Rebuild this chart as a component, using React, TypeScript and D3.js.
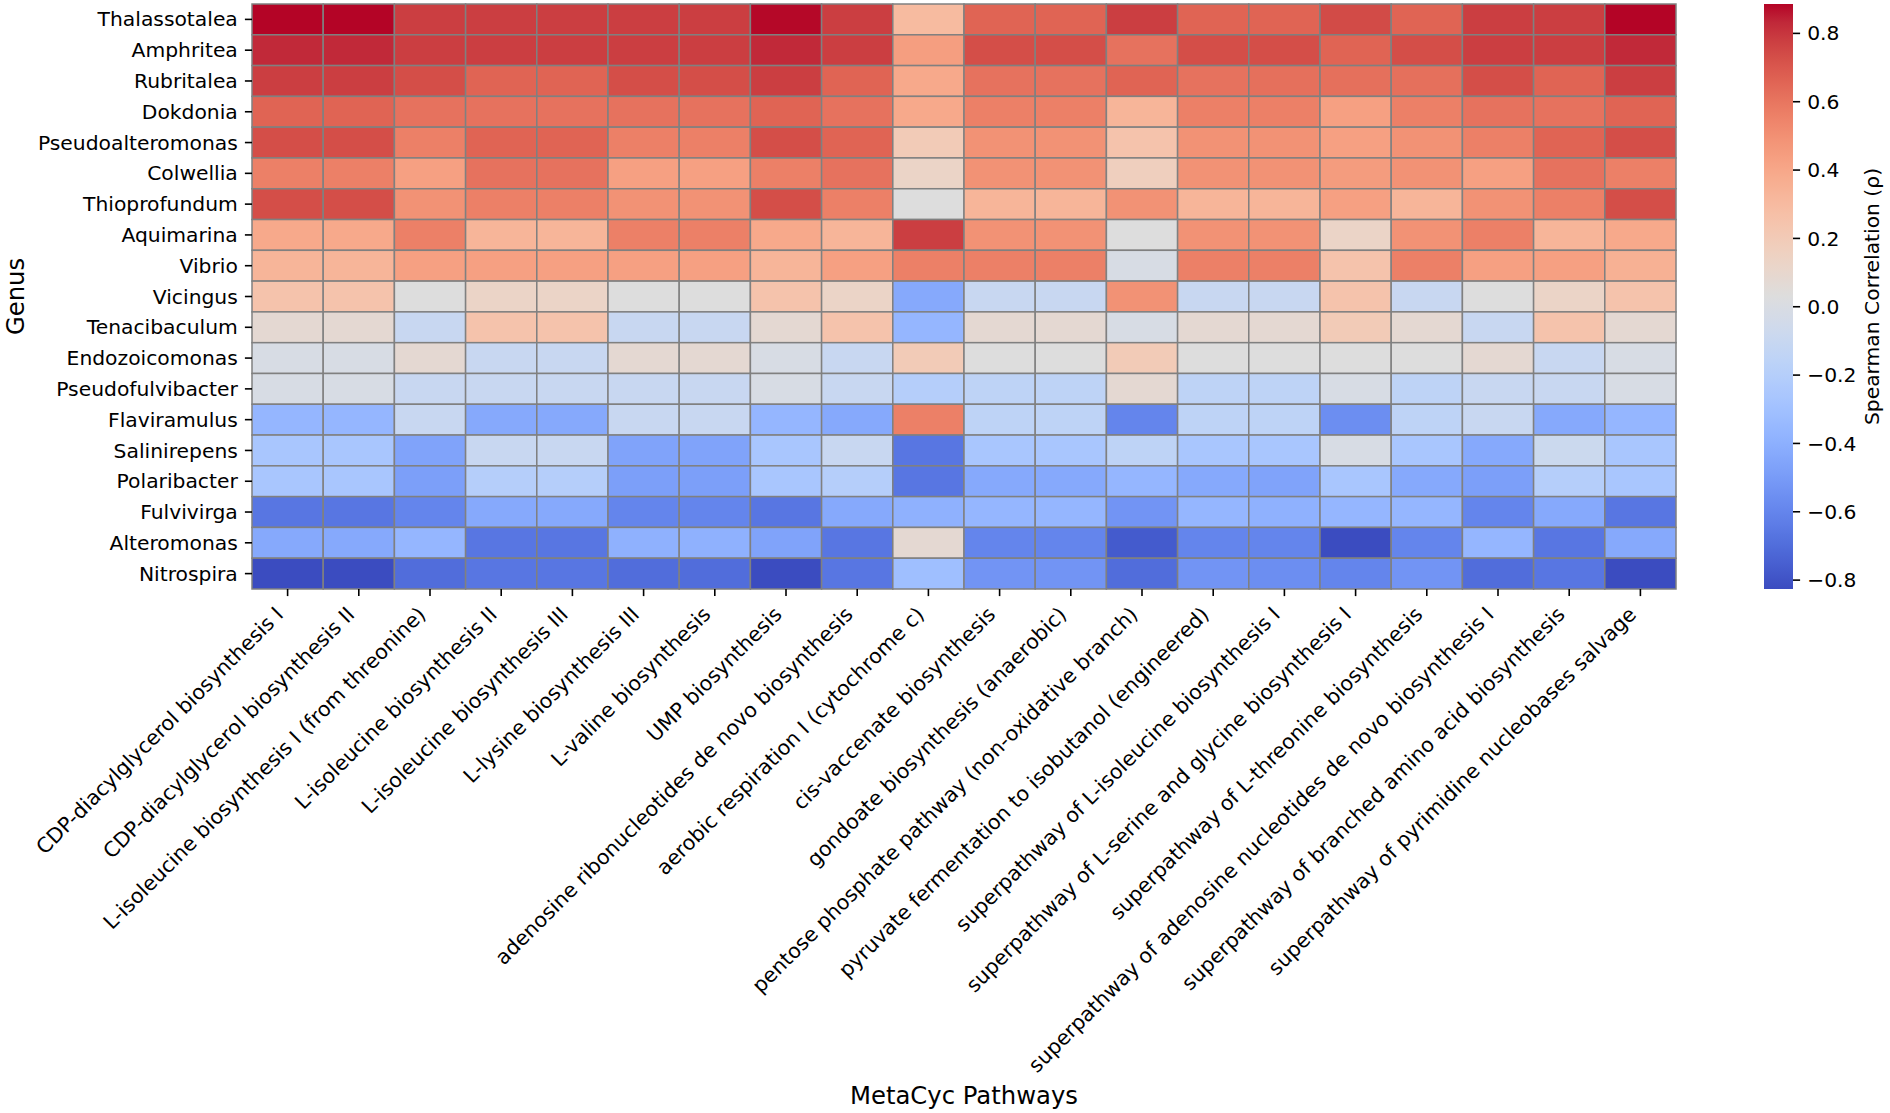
import * as d3 from "d3"

const genera = [
  "Thalassotalea", "Amphritea", "Rubritalea", "Dokdonia", "Pseudoalteromonas",
  "Colwellia", "Thioprofundum", "Aquimarina", "Vibrio", "Vicingus",
  "Tenacibaculum", "Endozoicomonas", "Pseudofulvibacter", "Flaviramulus",
  "Salinirepens", "Polaribacter", "Fulvivirga", "Alteromonas", "Nitrospira",
]

const pathways = [
  "CDP-diacylglycerol biosynthesis I",
  "CDP-diacylglycerol biosynthesis II",
  "L-isoleucine biosynthesis I (from threonine)",
  "L-isoleucine biosynthesis II",
  "L-isoleucine biosynthesis III",
  "L-lysine biosynthesis III",
  "L-valine biosynthesis",
  "UMP biosynthesis",
  "adenosine ribonucleotides de novo biosynthesis",
  "aerobic respiration I (cytochrome c)",
  "cis-vaccenate biosynthesis",
  "gondoate biosynthesis (anaerobic)",
  "pentose phosphate pathway (non-oxidative branch)",
  "pyruvate fermentation to isobutanol (engineered)",
  "superpathway of L-isoleucine biosynthesis I",
  "superpathway of L-serine and glycine biosynthesis I",
  "superpathway of L-threonine biosynthesis",
  "superpathway of adenosine nucleotides de novo biosynthesis I",
  "superpathway of branched amino acid biosynthesis",
  "superpathway of pyrimidine nucleobases salvage",
]

// spearman rho per genus, one value per pathway (same order as above)
const thalassotalea = [0.886, 0.886, 0.78, 0.78, 0.78, 0.78, 0.78, 0.88, 0.78, 0.30, 0.66, 0.66, 0.78, 0.66, 0.66, 0.74, 0.66, 0.78, 0.78, 0.886]
const amphritea = [0.83, 0.83, 0.78, 0.78, 0.78, 0.78, 0.78, 0.83, 0.78, 0.44, 0.73, 0.73, 0.61, 0.73, 0.73, 0.66, 0.73, 0.78, 0.78, 0.83]
const rubritalea = [0.78, 0.78, 0.73, 0.66, 0.66, 0.73, 0.73, 0.78, 0.66, 0.39, 0.61, 0.61, 0.66, 0.61, 0.62, 0.62, 0.62, 0.73, 0.66, 0.78]
const dokdonia = [0.66, 0.66, 0.61, 0.61, 0.61, 0.61, 0.61, 0.66, 0.61, 0.39, 0.56, 0.56, 0.33, 0.56, 0.56, 0.43, 0.56, 0.61, 0.61, 0.66]
const pseudoalteromonas = [0.73, 0.73, 0.56, 0.66, 0.66, 0.56, 0.56, 0.73, 0.66, 0.20, 0.49, 0.49, 0.25, 0.49, 0.49, 0.43, 0.49, 0.56, 0.66, 0.73]
const colwellia = [0.56, 0.56, 0.43, 0.61, 0.61, 0.43, 0.43, 0.56, 0.61, 0.13, 0.49, 0.49, 0.17, 0.49, 0.49, 0.45, 0.49, 0.43, 0.61, 0.56]
const thioprofundum = [0.73, 0.73, 0.49, 0.56, 0.56, 0.49, 0.49, 0.73, 0.56, 0.03, 0.33, 0.33, 0.49, 0.33, 0.33, 0.43, 0.33, 0.49, 0.56, 0.73]
const aquimarina = [0.39, 0.39, 0.56, 0.33, 0.33, 0.56, 0.56, 0.39, 0.33, 0.78, 0.49, 0.49, 0.03, 0.49, 0.49, 0.13, 0.49, 0.56, 0.33, 0.39]
const vibrio = [0.33, 0.33, 0.43, 0.43, 0.43, 0.43, 0.43, 0.33, 0.43, 0.56, 0.56, 0.56, -0.01, 0.56, 0.56, 0.25, 0.56, 0.43, 0.43, 0.35]
const vicingus = [0.25, 0.25, 0.03, 0.13, 0.13, 0.03, 0.03, 0.25, 0.13, -0.43, -0.10, -0.10, 0.49, -0.10, -0.10, 0.25, -0.10, 0.03, 0.13, 0.25]
const tenacibaculum = [0.08, 0.08, -0.10, 0.25, 0.25, -0.10, -0.10, 0.08, 0.25, -0.36, 0.08, 0.08, -0.01, 0.08, 0.08, 0.20, 0.08, -0.10, 0.25, 0.08]
const endozoicomonas = [-0.01, -0.01, 0.08, -0.10, -0.10, 0.08, 0.08, -0.01, -0.10, 0.20, 0.03, 0.03, 0.20, 0.03, 0.03, 0.03, 0.03, 0.08, -0.10, -0.01]
const pseudofulvibacter = [-0.01, -0.01, -0.10, -0.10, -0.10, -0.10, -0.10, -0.01, -0.10, -0.20, -0.15, -0.15, 0.08, -0.15, -0.15, -0.01, -0.15, -0.10, -0.10, -0.01]
const flaviramulus = [-0.36, -0.36, -0.10, -0.43, -0.43, -0.10, -0.10, -0.36, -0.43, 0.56, -0.15, -0.15, -0.60, -0.15, -0.15, -0.56, -0.15, -0.10, -0.43, -0.36]
const salinirepens = [-0.26, -0.26, -0.46, -0.10, -0.10, -0.46, -0.46, -0.26, -0.10, -0.66, -0.26, -0.26, -0.15, -0.26, -0.26, -0.01, -0.26, -0.43, -0.08, -0.26]
const polaribacter = [-0.26, -0.26, -0.48, -0.20, -0.20, -0.48, -0.48, -0.26, -0.20, -0.66, -0.43, -0.43, -0.36, -0.43, -0.46, -0.26, -0.43, -0.48, -0.20, -0.26]
const fulvivirga = [-0.66, -0.66, -0.60, -0.43, -0.43, -0.60, -0.60, -0.66, -0.43, -0.39, -0.36, -0.36, -0.53, -0.36, -0.39, -0.36, -0.36, -0.60, -0.43, -0.66]
const alteromonas = [-0.43, -0.43, -0.36, -0.66, -0.66, -0.39, -0.39, -0.46, -0.66, 0.08, -0.60, -0.60, -0.77, -0.60, -0.60, -0.826, -0.60, -0.36, -0.66, -0.43]
const nitrospira = [-0.826, -0.826, -0.70, -0.66, -0.66, -0.70, -0.70, -0.826, -0.66, -0.31, -0.53, -0.53, -0.70, -0.53, -0.56, -0.60, -0.53, -0.70, -0.66, -0.826]

const rhoRows = [
  thalassotalea, amphritea, rubritalea, dokdonia, pseudoalteromonas, colwellia,
  thioprofundum, aquimarina, vibrio, vicingus, tenacibaculum, endozoicomonas,
  pseudofulvibacter, flaviramulus, salinirepens, polaribacter, fulvivirga,
  alteromonas, nitrospira,
]

const cbTicks = [-0.8, -0.6, -0.4, -0.2, 0, 0.2, 0.4, 0.6, 0.8]

// matplotlib "coolwarm"
const coolwarm = [
  "#3b4cc0", "#445acc", "#4d68d7", "#5775e1", "#6282ea", "#6c8ef1", "#779af7", "#82a5fb",
  "#8db0fe", "#98b9ff", "#a3c2ff", "#aec9fd", "#b8d0f9", "#c2d5f4", "#ccd9ee", "#d5dbe6",
  "#dddddd", "#e5d8d1", "#ecd3c5", "#f1ccb9", "#f5c4ad", "#f7bba1", "#f7b194", "#f7a688",
  "#f49a7c", "#f18d71", "#ec7f66", "#e5705c", "#de6052", "#d55049", "#cb3e41", "#c02839",
  "#b40426",
]

const W = 1890
const H = 1113
const FONT = "DejaVu Sans, sans-serif"

export default function App() {
  const left = 252, right = 1676, top = 4, bottom = 589
  const tickLen = 7.1, pad = 7.1

  const cells = rhoRows.flatMap((row, r) =>
    row.map((v, c) => ({ genus: genera[r], pathway: pathways[c], v }))
  )
  const [vmin, vmax] = d3.extent(cells, d => d.v) as [number, number]

  const x = d3.scaleBand<string>().domain(pathways).range([left, right])
  const y = d3.scaleBand<string>().domain(genera).range([top, bottom])

  const tNorm = d3.scaleLinear().domain([vmin, vmax]).range([0, 1]).clamp(true)
  const cmap = d3.scaleLinear<string>()
    .domain(coolwarm.map((_, i) => i / (coolwarm.length - 1)))
    .range(coolwarm)
    .interpolate(d3.interpolateRgb)
  const color = (v: number) => cmap(tNorm(v))

  // colorbar
  const cbX = 1764, cbW = 29
  const cbY = d3.scaleLinear().domain([vmin, vmax]).range([bottom, top])
  const fmt = d3.format(".1f")
  const gradStops = d3.range(0, 1.0001, 1 / 64)

  return (
    <svg width={W} height={H} viewBox={`0 0 ${W} ${H}`}
      style={{ position: "absolute", left: 0, top: 0, background: "#fff" }}
      fontFamily={FONT}>
      <defs>
        <linearGradient id="cb" x1="0" y1="1" x2="0" y2="0">
          {gradStops.map(t => (
            <stop key={t} offset={t} stopColor={cmap(t)} />
          ))}
        </linearGradient>
      </defs>

      <g>
        {cells.map(d => (
          <rect key={d.genus + d.pathway}
            x={x(d.pathway)} y={y(d.genus)}
            width={x.bandwidth()} height={y.bandwidth()}
            fill={color(d.v)} stroke="#808080" strokeWidth={1.5} />
        ))}
      </g>

      {/* y axis */}
      <g>
        {genera.map(g => {
          const cy = (y(g) ?? 0) + y.bandwidth() / 2
          return (
            <g key={g}>
              <line x1={left - tickLen} x2={left} y1={cy} y2={cy} stroke="#000" strokeWidth={1.6} />
              <text x={left - tickLen - pad} y={cy} dy="0.35em" textAnchor="end" fontSize={20.3}>{g}</text>
            </g>
          )
        })}
      </g>

      {/* x axis */}
      <g>
        {pathways.map(p => {
          const cx = (x(p) ?? 0) + x.bandwidth() / 2
          return (
            <g key={p}>
              <line x1={cx} x2={cx} y1={bottom} y2={bottom + tickLen} stroke="#000" strokeWidth={1.6} />
              <text transform={`translate(${cx - 3},${bottom + tickLen + pad + 12.5}) rotate(-45)`}
                textAnchor="end" fontSize={20.6}>{p}</text>
            </g>
          )
        })}
      </g>

      <text x={(left + right) / 2} y={1104} textAnchor="middle" fontSize={24.3}>MetaCyc Pathways</text>
      <text transform={`translate(23.5,${(top + bottom) / 2}) rotate(-90)`} textAnchor="middle" fontSize={24.3}>Genus</text>

      {/* colorbar */}
      <rect x={cbX} y={top} width={cbW} height={bottom - top} fill="url(#cb)" />
      {cbTicks.map(t => (
        <g key={t}>
          <line x1={cbX + cbW} x2={cbX + cbW + tickLen} y1={cbY(t)} y2={cbY(t)} stroke="#000" strokeWidth={1.6} />
          <text x={cbX + cbW + tickLen + pad} y={cbY(t)} dy="0.35em" fontSize={20.3}>{fmt(t)}</text>
        </g>
      ))}
      <text transform={`translate(1879,${(top + bottom) / 2}) rotate(-90)`} textAnchor="middle" fontSize={20.3}>
        Spearman Correlation (ρ)
      </text>
    </svg>
  )
}
